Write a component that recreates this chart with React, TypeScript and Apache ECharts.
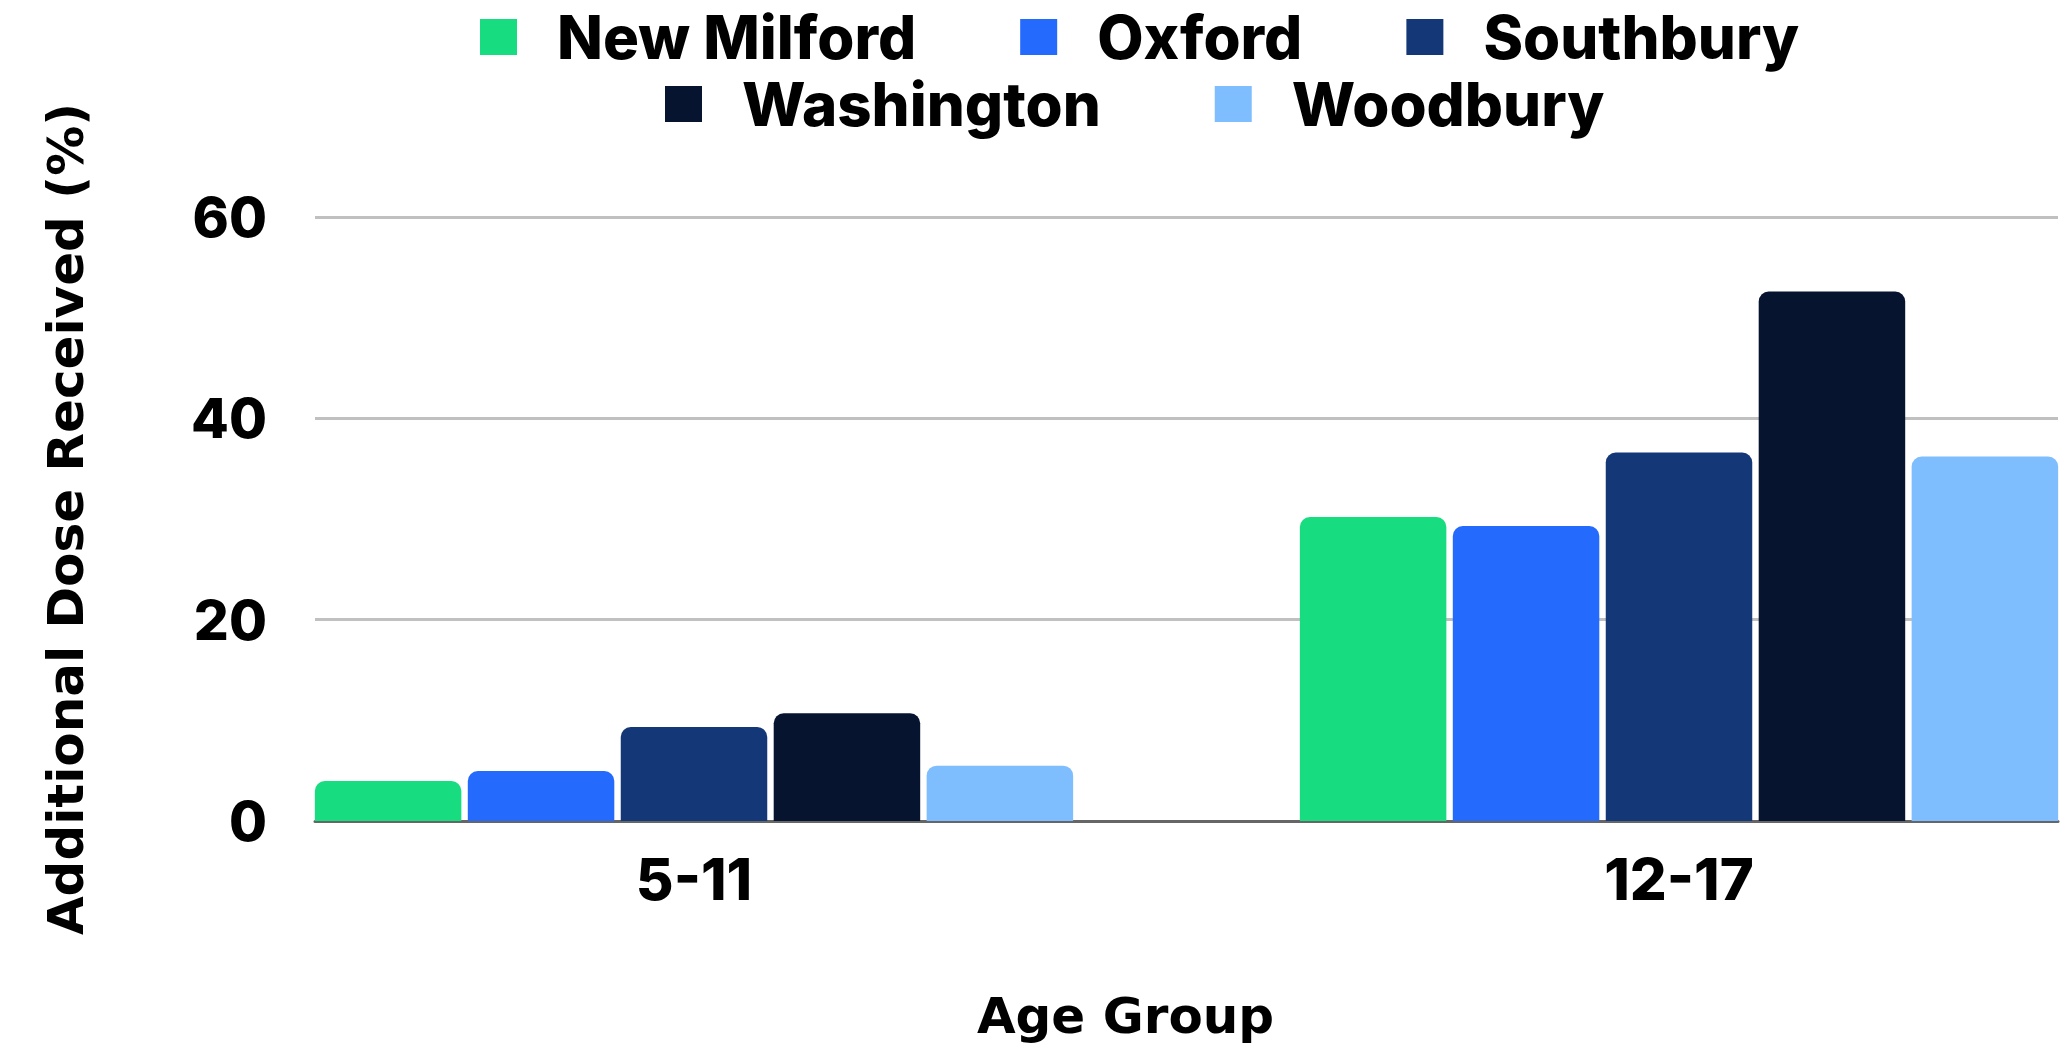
import React, { useEffect, useRef } from "react";
import * as echarts from "echarts";

const categories = ["5-11", "12-17"];
const seriesNames = ["New Milford", "Oxford", "Southbury", "Washington", "Woodbury"];
const newMilford = [3.97, 30.2];
const oxford = [4.97, 29.3];
const southbury = [9.34, 36.6];
const washington = [10.7, 52.6];
const woodbury = [5.5, 36.2];
const seriesValues = [newMilford, oxford, southbury, washington, woodbury];
const colors = ["#17DC80", "#246BFD", "#143877", "#061430", "#7EBDFE"];
const yMin = 0;
const yMax = 60;
const yInterval = 20;
const xTitle = "Age Group";
const yTitle = "Additional Dose Received (%)";

export default function App() {
  const ref = useRef<HTMLDivElement>(null);
  useEffect(() => {
    if (!ref.current) return;
    const chart = echarts.init(ref.current, null, { renderer: "svg" });
    const legendText = {
      fontFamily: "Inter",
      fontWeight: 800,
      fontSize: 60,
      color: "#000",
      lineHeight: 60,
      padding: [0, 0, 0, 35],
    };
    const legendCommon = {
      orient: "horizontal",
      itemWidth: 37,
      itemHeight: 36,
      icon: "rect",
      selectedMode: false,
      textStyle: legendText,
    };
    chart.setOption({
      animation: false,
      backgroundColor: "#fff",
      color: colors,
      legend: [
        { ...legendCommon, itemGap: 104, data: seriesNames.slice(0, 3), left: 475, top: 2 },
        { ...legendCommon, itemGap: 114, data: seriesNames.slice(3), left: 660, top: 69 },
      ],
      grid: [
        { left: 315, top: 217, width: 1743, height: 604 },
        { left: 201.5, top: 217, width: 1970, height: 604 },
      ],
      xAxis: [
        {
          gridIndex: 0,
          type: "value",
          min: 0,
          max: 1,
          axisLine: { show: true, lineStyle: { color: "#666", width: 3 } },
          axisTick: { show: false },
          axisLabel: { show: false },
          splitLine: { show: false },
        },
        {
          gridIndex: 1,
          type: "category",
          data: categories,
          axisLine: { show: false },
          axisTick: { show: false },
          axisLabel: {
            margin: 29,
            fontFamily: "Inter",
            fontWeight: 800,
            fontSize: 58,
            color: "#000",
          },
          name: xTitle,
          nameLocation: "middle",
          nameGap: 170,
          nameTextStyle: {
            fontFamily: "DejaVu Sans",
            fontWeight: "bold",
            fontSize: 50,
            color: "#000",
            padding: [0, 122, 0, 0],
          },
        },
      ],
      yAxis: [
        {
          gridIndex: 0,
          type: "value",
          min: yMin,
          max: yMax,
          interval: yInterval,
          axisLine: { show: false },
          axisTick: { show: false },
          axisLabel: {
            margin: 48,
            fontFamily: "Inter",
            fontWeight: 800,
            fontSize: 55,
            color: "#000",
            padding: [0, 0, 14, 0],
          },
          splitLine: { show: true, showMinLine: false, lineStyle: { color: "#c0c0c0", width: 3 } },
          name: yTitle,
          nameLocation: "middle",
          nameGap: 224,
          nameTextStyle: {
            fontFamily: "DejaVu Sans",
            fontWeight: "bold",
            fontSize: 50,
            color: "#000",
          },
        },
        {
          gridIndex: 1,
          type: "value",
          min: yMin,
          max: yMax,
          interval: yInterval,
          show: false,
          splitLine: { show: false },
        },
      ],
      series: seriesNames.map((name, i) => ({
        name,
        type: "bar",
        xAxisIndex: 1,
        yAxisIndex: 1,
        data: seriesValues[i],
        barWidth: 146.5,
        barGap: "4.4%",
        itemStyle: { color: colors[i], borderRadius: [10, 10, 0, 0] },
        emphasis: { disabled: true },
      })),
    });
    return () => chart.dispose();
  }, []);
  return (
    <div
      style={{
        position: "fixed",
        left: 0,
        top: 0,
        width: 2071,
        height: 1049,
        overflow: "hidden",
        background: "#fff",
      }}
    >
      <div ref={ref} style={{ width: 2200, height: 1049 }} />
    </div>
  );
}
